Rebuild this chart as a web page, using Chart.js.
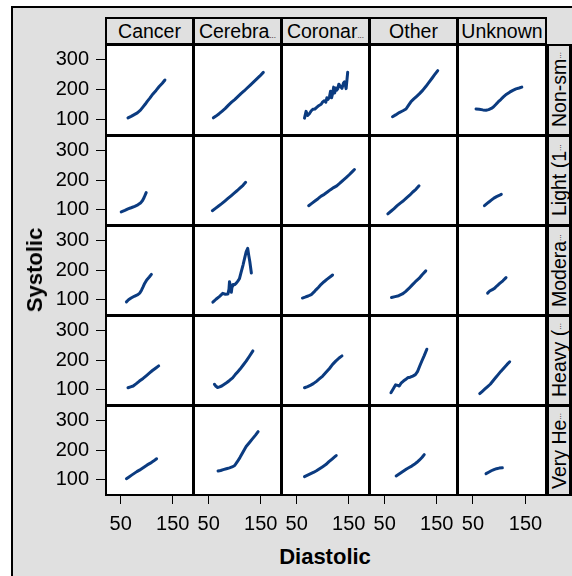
<!DOCTYPE html>
<html>
<head>
<meta charset="utf-8">
<title>Systolic vs Diastolic</title>
<script src="https://cdn.jsdelivr.net/npm/chart.js@4.4.1/dist/chart.umd.min.js"></script>
<style>
    body { margin: 0; background: #fff; font-family: "Liberation Sans", Arial, sans-serif; }
    #marco { position: absolute; left: 11px; top: 6px; width: 620px; height: 620px; border: 2px solid #000; background: #e0e0e0; }
    .negro { position: absolute; background: #000; }
    .celda { position: absolute; background: #fff; }
    .cabecera { position: absolute; background: #e0e0e0; color: #000; font-size: 19.5px; text-align: center; white-space: nowrap; overflow: hidden; }
    .lateral { position: absolute; background: #e0e0e0; color: #000; font-size: 19.5px; white-space: nowrap; overflow: hidden;
               writing-mode: vertical-rl; transform: rotate(180deg); text-align: center; }
    .puntos { font-size: 8px; }
    .titulo { position: absolute; font-weight: bold; font-size: 22px; color: #000; white-space: nowrap; }
    canvas { position: absolute; }
</style>
</head>
<body>
<div id="marco"></div>
<div id="panel"></div>
<div class="titulo" id="tituloY">Systolic</div>
<div class="titulo" id="tituloX">Diastolic</div>

<script>
// categorias: columnas (causa de muerte) y filas (estado de fumador)
const causas = ['Cancer', 'Cerebral Vascular Disease', 'Coronary Heart Disease', 'Other', 'Unknown'];
const causasTexto = ['Cancer', 'Cerebra…', 'Coronar…', 'Other', 'Unknown'];
const fumador = ['Non-smoker', 'Light (1-5)', 'Moderate (6-15)', 'Heavy (16-25)', 'Very Heavy (> 25)'];
const fumadorTexto = ['Non-sm…', 'Light (1…', 'Modera…', 'Heavy (…', 'Very He…'];

// marcas de los ejes
const ticksX = [50, 150];
const ticksY = [100, 200, 300];

// puntos [diastolic, systolic], una lista por causa en cada fila
const noFumador = [
    [[64,104],[70,109],[76,115],[82,121],[88,130],[93,141],[97,150],[101,160],[106,171],[112,185],[118,197],[124,210],[130,221],[135,232]],
    [[59,104],[64,110],[70,118],[76,127],[82,136],[88,147],[94,157],[100,166],[106,176],[112,186],[118,195],[124,205],[130,215],[136,225],[142,235],[148,245],[155,258]],
    [[65,103],[68,126],[71,112],[74,117],[78,128],[81,133],[85,134],[89,140],[93,146],[97,150],[100,158],[103,162],[106,157],[108,172],[110,166],[113,175],[115,194],[117,172],[119,186],[121,208],[123,188],[125,205],[127,198],[129,203],[131,218],[134,210],[137,204],[140,222],[142,226],[145,203],[148,258]],
    [[65,108],[71,114],[78,122],[85,128],[91,134],[96,147],[101,160],[106,168],[111,176],[117,186],[123,197],[129,210],[135,224],[141,238],[146,250],[152,264]],
    [[56,134],[62,133],[69,131],[75,130],[80,132],[85,136],[89,141],[94,150],[98,158],[103,166],[108,175],[114,184],[120,191],[126,197],[132,202],[138,205],[143,208]]
];
const ligero = [
    [[51,91],[58,96],[64,101],[70,105],[77,110],[83,115],[88,121],[92,130],[95,140],[99,157]],
    [[57,95],[63,103],[69,111],[75,119],[81,128],[87,137],[93,146],[99,155],[105,164],[111,174],[116,182],[121,192]],
    [[73,112],[79,120],[85,128],[91,136],[97,145],[103,151],[109,159],[115,167],[121,174],[127,180],[133,189],[139,199],[145,208],[151,218],[156,227],[161,236]],
    [[56,84],[62,93],[68,102],[74,112],[80,121],[86,129],[92,139],[98,148],[104,159],[110,168],[116,180]],
    [[72,112],[76,118],[80,124],[85,131],[90,138],[95,143],[100,147],[104,151]]
];
const moderado = [
    [[61,91],[65,98],[70,104],[76,110],[83,116],[87,122],[90,131],[93,142],[96,154],[100,166],[105,176],[109,185]],
    [[58,90],[64,100],[71,110],[77,120],[82,117],[87,118],[89,135],[90,160],[92,140],[93.5,124],[95,145],[96.5,150],[100,150],[103,155],[106,162],[109,170],[112,190],[116,217],[119,240],[122,262],[125,274],[127,250],[129,229],[132,190]],
    [[61,104],[66,107],[72,111],[78,116],[83,124],[87,132],[92,141],[97,151],[102,159],[108,168],[114,176],[119,183]],
    [[63,106],[70,109],[77,112],[84,118],[90,126],[96,136],[103,149],[109,160],[116,171],[122,184],[129,197]],
    [[78,121],[82,128],[87,133],[91,137],[96,146],[101,154],[107,163],[113,174]]
];
const pesado = [
    [[64,105],[69,108],[74,111],[80,119],[86,128],[93,137],[99,146],[105,155],[111,164],[117,172],[123,180]],
    [[61,117],[64,110],[67,106],[71,108],[75,111],[80,117],[85,123],[90,130],[96,139],[101,150],[106,160],[110,168],[116,182],[122,196],[128,212],[135,231]],
    [[65,105],[71,109],[77,114],[82,119],[88,127],[94,136],[100,145],[106,157],[113,171],[119,185],[125,196],[131,206],[137,214]],
    [[62,88],[66,100],[71,115],[75,113],[78,111],[82,122],[86,128],[90,133],[94,139],[99,141],[104,145],[109,150],[113,160],[117,178],[121,195],[126,215],[131,237]],
    [[63,85],[68,93],[73,101],[78,109],[83,117],[88,128],[93,139],[98,150],[103,161],[109,173],[115,185],[120,194]]
];
const muyPesado = [
    [[61,102],[66,108],[71,114],[76,120],[81,126],[86,131],[91,137],[96,143],[101,149],[107,155],[113,162],[119,170]],
    [[68,128],[73,130],[78,133],[84,136],[90,139],[95,142],[100,147],[105,160],[110,174],[116,193],[122,212],[128,225],[134,238],[140,251],[145,263]],
    [[65,109],[71,114],[77,119],[83,124],[88,129],[94,136],[100,143],[106,150],[112,160],[118,169],[124,178],[126,181]],
    [[72,111],[77,117],[82,123],[87,129],[92,135],[97,140],[102,145],[107,151],[112,158],[117,166],[122,175],[126,184]],
    [[75,119],[80,124],[85,129],[90,133],[95,136],[100,138],[106,139]]
];
const filas = [noFumador, ligero, moderado, pesado, muyPesado];

// posiciones de la rejilla en la pagina
const bordesX = [105, 193, 281, 369, 457, 546];
const bordesY = [44, 135, 225, 315, 405, 495];
const anchoEjeY = 65;
const altoEjeX = 45;

const fuente = { family: 'Liberation Sans', size: 20 };
const colorLinea = '#0b3b80';

const panel = document.getElementById('panel');

function Caja(clase, x, y, w, h) {
    let div = document.createElement('div');
    div.className = clase;
    div.style.left = x + 'px';
    div.style.top = y + 'px';
    div.style.width = w + 'px';
    div.style.height = h + 'px';
    panel.appendChild(div);
    return div;
}

function PonerTexto(div, texto) {
    // los puntos suspensivos se ven pequeños en el original
    if (texto.endsWith('…')) {
        div.textContent = texto.slice(0, -1);
        let span = document.createElement('span');
        span.className = 'puntos';
        span.textContent = '...';
        div.appendChild(span);
    } else {
        div.textContent = texto;
    }
}

function DibujarRejilla() {
    // fondo negro que deja ver las lineas entre paneles
    Caja('negro', 105, 17, 442, 479);
    Caja('negro', 546, 44, 26, 452);

    for (let c = 0; c < 5; c++) {
        let cab = Caja('cabecera', bordesX[c] + 2, 19, bordesX[c + 1] - bordesX[c] - 3, 24);
        cab.style.lineHeight = '24px';
        cab.title = causas[c];
        PonerTexto(cab, causasTexto[c]);
    }
    for (let f = 0; f < 5; f++) {
        let lat = Caja('lateral', 549, bordesY[f] + 2, 20, bordesY[f + 1] - bordesY[f] - 3);
        lat.style.lineHeight = '20px';
        lat.title = fumador[f];
        PonerTexto(lat, fumadorTexto[f]);
        for (let c = 0; c < 5; c++) {
            Caja('celda', bordesX[c] + 2, bordesY[f] + 2, bordesX[c + 1] - bordesX[c] - 3, bordesY[f + 1] - bordesY[f] - 3);
        }
    }
}

function DibujarPanel(f, c) {
    const conEjeY = c === 0;
    const conEjeX = f === 4;

    let izq = bordesX[c] - (conEjeY ? anchoEjeY : 0);
    let ancho = bordesX[c + 1] - bordesX[c] + (conEjeY ? anchoEjeY : 0);
    let alto = bordesY[f + 1] - bordesY[f] + (conEjeX ? altoEjeX : 0);

    let canvas = document.createElement('canvas');
    canvas.width = ancho;
    canvas.height = alto;
    canvas.style.left = izq + 'px';
    canvas.style.top = bordesY[f] + 'px';
    panel.appendChild(canvas);

    new Chart(canvas, {
        type: 'scatter',
        data: {
            datasets: [{
                label: fumador[f] + ' / ' + causas[c],
                data: filas[f][c].map(p => ({ x: p[0], y: p[1] })),
                showLine: true,
                borderColor: colorLinea,
                borderWidth: 3,
                borderJoinStyle: 'round',
                borderCapStyle: 'round',
                pointRadius: 0,
                tension: 0
            }]
        },
        options: {
            responsive: false,
            animation: false,
            events: [],
            layout: { padding: 0 },
            plugins: { legend: { display: false }, tooltip: { enabled: false } },
            scales: {
                x: {
                    type: 'linear', min: 19.8, max: 189, display: conEjeX,
                    afterBuildTicks: eje => { eje.ticks = ticksX.map(v => ({ value: v })); },
                    afterFit: eje => {
                        // solo la fila de abajo tiene eje visible
                        if (!conEjeX) return;
                        eje.height = altoEjeX; eje.paddingLeft = 0; eje.paddingRight = 0;
                    },
                    grid: { drawOnChartArea: false, drawTicks: true, tickLength: 9, color: '#000', lineWidth: 1 },
                    border: { display: false },
                    ticks: { color: '#000', font: fuente, padding: 8, maxRotation: 0, autoSkip: false }
                },
                y: {
                    type: 'linear', min: 46, max: 354, display: conEjeY,
                    afterBuildTicks: eje => { eje.ticks = ticksY.map(v => ({ value: v })); },
                    afterFit: eje => {
                        if (!conEjeY) return;
                        eje.width = anchoEjeY; eje.paddingTop = 0; eje.paddingBottom = 0;
                    },
                    grid: { drawOnChartArea: false, drawTicks: true, tickLength: 9, color: '#000', lineWidth: 1 },
                    border: { display: false },
                    ticks: { color: '#000', font: fuente, padding: 7, autoSkip: false }
                }
            }
        }
    });
}

DibujarRejilla();
for (let f = 0; f < 5; f++) {
    for (let c = 0; c < 5; c++) {
        DibujarPanel(f, c);
    }
}

// titulos de los ejes, centrados en la rejilla
let tituloY = document.getElementById('tituloY');
tituloY.style.left = '35px';
tituloY.style.top = '270px';
tituloY.style.transform = 'translate(-50%, -50%) rotate(-90deg)';
let tituloX = document.getElementById('tituloX');
tituloX.style.left = '325px';
tituloX.style.top = '557px';
tituloX.style.transform = 'translate(-50%, -50%)';
</script>
</body>
</html>
